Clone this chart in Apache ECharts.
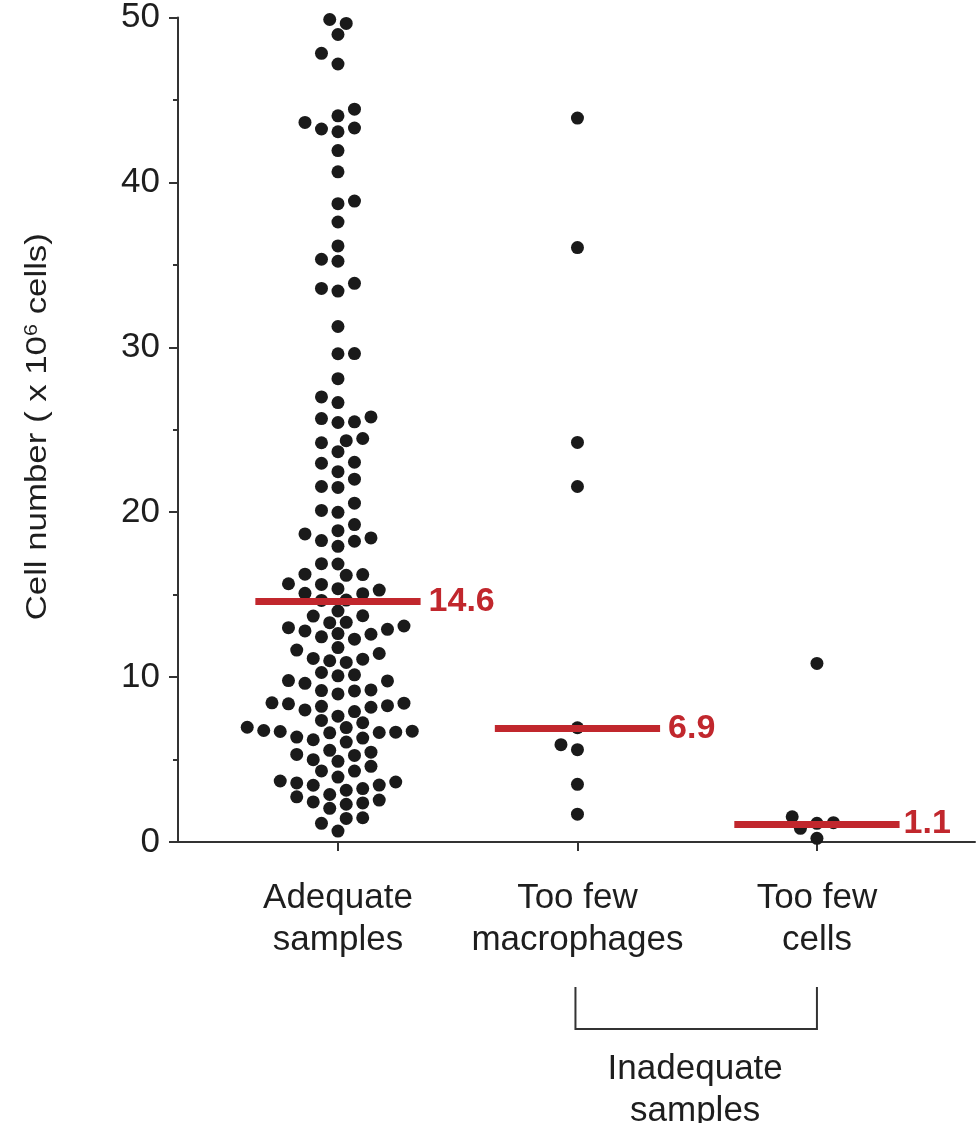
<!DOCTYPE html>
<html><head><meta charset="utf-8">
<script src="https://cdn.jsdelivr.net/npm/echarts@6/dist/echarts.min.js"></script>
<style>html,body{margin:0;padding:0;background:#fff;} #c{width:979px;height:1123px;}</style>
</head><body><div id="c"></div>
<script>
// ---- data ----
const categories = ['Adequate\nsamples', 'Too few\nmacrophages', 'Too few\ncells'];
const adequate = [
  49.64, 49.88, 48.97, 47.83, 47.18, 44.44, 44.04, 43.64, 43.24, 43.07, 43.30, 41.93, 40.64,
  38.71, 38.87, 37.60, 36.15, 35.34, 35.22, 33.41, 33.57, 33.88, 31.26,
  29.61, 29.62, 28.10, 26.99, 26.65, 25.68, 25.44, 25.48, 25.78, 24.21, 24.47, 24.34, 23.67,
  23.03, 22.97, 22.46, 22.00, 21.50, 21.56, 20.55, 20.11, 19.99,
  19.25, 18.88, 18.24, 18.44, 18.28, 18.68, 17.93, 16.86, 16.88, 16.22, 16.24, 16.17, 15.28,
  15.66, 15.62, 15.08, 15.36, 15.06, 14.65, 14.67, 14.01, 13.70, 13.72, 12.90, 13.30, 12.64,
  13.00, 12.60, 13.10, 12.80, 13.32, 12.30, 12.44, 11.64, 11.13, 11.79, 11.09, 10.99, 11.43, 10.89,
  9.77, 9.79, 9.62, 10.08, 10.14, 10.28, 9.18, 9.22, 8.98, 9.16, 8.44, 8.01, 8.17, 8.27, 8.42,
  8.23, 7.91, 8.38, 7.63, 7.37, 6.96, 6.62, 6.72, 7.23, 6.36, 6.94, 6.20, 6.76, 6.06, 6.30,
  6.70, 6.66, 6.64, 4.89, 5.25, 5.45, 4.99, 5.56, 4.59, 5.31, 4.31, 3.94, 4.30, 3.70, 3.14,
  3.44, 3.45, 3.64, 3.58, 3.24, 2.88, 2.74, 2.37, 2.54, 2.29, 2.43, 2.04, 1.43, 1.47, 1.13, 0.66
];
const tooFewMacrophages = [43.90, 36.05, 24.23, 21.56, 6.93, 5.60, 5.90, 3.50, 1.69];
const tooFewCells = [10.83, 1.13, 1.53, 0.83, 1.17, 0.22];
const medians = [14.6, 6.9, 1.1];
const medianLabels = ['14.6', '6.9', '1.1'];
const groupTitle = 'Inadequate\nsamples';
const yTitle = 'Cell number ( x 10{sup|6} cells)';

const FONT = '"Liberation Sans", Arial, Helvetica, sans-serif';
const RED = '#c1272d';
const INK = '#1a1a1a';
const TXT = '#1e1e1e';
const groups = [adequate, tooFewMacrophages, tooFewCells];
const labelGap = [8, 8, 4];

const chart = echarts.init(document.getElementById('c'), null, {renderer: 'canvas'});

function seriesFor(i, data) {
  return {
    type: 'scatter',
    data: data,
    symbol: 'circle',
    symbolSize: 13,
    itemStyle: {color: INK, opacity: 1},
    emphasis: {disabled: true},
    silent: true,
    z: 2,
    markLine: {
      silent: true,
      symbol: 'none',
      z: 5,
      lineStyle: {color: RED, width: 7, type: 'solid', opacity: 1},
      label: {
        show: true, position: 'end', distance: labelGap[i],
        formatter: medianLabels[i], color: RED,
        fontSize: 34, fontWeight: 'bold', fontFamily: FONT
      },
      emphasis: {disabled: true},
      data: [[{coord: [i - 0.345, medians[i]]}, {coord: [i + 0.345, medians[i]]}]]
    }
  };
}

chart.setOption({
  animation: false,
  backgroundColor: '#ffffff',
  textStyle: {fontFamily: FONT},
  grid: {left: 178, right: 4, top: 14, bottom: 281, containLabel: false},
  xAxis: {
    type: 'value', min: -0.668, max: 2.66,
    splitLine: {show: false},
    axisLine: {show: true, onZero: false, lineStyle: {color: '#333', width: 2}},
    axisTick: {show: true, customValues: [0, 1, 2], length: 9, lineStyle: {color: '#333', width: 2}},
    axisLabel: {
      customValues: [0, 1, 2],
      formatter: v => categories[Math.round(v)],
      fontSize: 35, lineHeight: 42, color: TXT, margin: 35, fontFamily: FONT
    }
  },
  yAxis: {
    type: 'value', min: 0, max: 50, interval: 10,
    splitLine: {show: false},
    axisLine: {show: true, onZero: false, lineStyle: {color: '#333', width: 2}},
    axisTick: {show: true, length: 9, lineStyle: {color: '#333', width: 2}},
    minorTick: {show: true, splitNumber: 2, length: 5, lineStyle: {color: '#333', width: 2}},
    axisLabel: {fontSize: 35, color: TXT, margin: 18, fontFamily: FONT}
  },
  series: groups.map((g, i) => seriesFor(i, []))
});

// beeswarm layout computed from the values through the axis scales
const px0 = chart.convertToPixel({xAxisIndex: 0}, 0);
const px1 = chart.convertToPixel({xAxisIndex: 0}, 1);
const px2 = chart.convertToPixel({xAxisIndex: 0}, 2);
const py0 = chart.convertToPixel({yAxisIndex: 0}, 0);
const py50 = chart.convertToPixel({yAxisIndex: 0}, 50);
const xUnitPx = px1 - px0;
const yUnitPx = (py0 - py50) / 50;

function swarm(values, center) {
  const D = 13.6, step = 8.25;
  const order = values.map((v, i) => i).sort((a, b) => values[a] - values[b]);
  const placed = [];
  const out = new Array(values.length);
  let flip = false;
  order.forEach(i => {
    const py = values[i] * yUnitPx;
    const near = placed.filter(p => Math.abs(p.py - py) < D);
    let off = null;
    for (let k = 0; off === null && k < 60; k++) {
      const cands = k === 0 ? [0] : (flip ? [k * step, -k * step] : [-k * step, k * step]);
      for (const c of cands) {
        if (near.every(p => (p.px - c) * (p.px - c) + (p.py - py) * (p.py - py) >= D * D)) { off = c; break; }
      }
    }
    if (off !== 0) flip = !flip;
    placed.push({px: off, py: py});
    out[i] = [center + off / xUnitPx, values[i]];
  });
  return out;
}

const bTop = py0 + 145, bBot = py0 + 187;
chart.setOption({
  series: groups.map((g, i) => ({data: swarm(g, i)})),
  graphic: [
    {
      type: 'polyline', silent: true,
      shape: {points: [[px1 - 2, bTop], [px1 - 2, bBot], [px2, bBot], [px2, bTop]]},
      style: {stroke: '#333', lineWidth: 2, fill: null}
    },
    {
      type: 'text', silent: true,
      x: (px1 + px2) / 2 - 2, y: py0 + 206,
      style: {text: groupTitle, font: '35px ' + FONT, fill: TXT, align: 'center', verticalAlign: 'top', lineHeight: 42}
    },
    {
      type: 'text', silent: true,
      x: 38, y: (py0 + py50) / 2 - 3,
      rotation: Math.PI / 2, scaleX: 1.2, scaleY: 1,
      style: {
        text: yTitle, fill: TXT, align: 'center', verticalAlign: 'middle',
        fontSize: 29, fontFamily: FONT,
        rich: {sup: {fontSize: 18, verticalAlign: 'top', fill: TXT, fontFamily: FONT, padding: [0, 0, 12, 0]}}
      }
    }
  ]
});
</script>
</body></html>
